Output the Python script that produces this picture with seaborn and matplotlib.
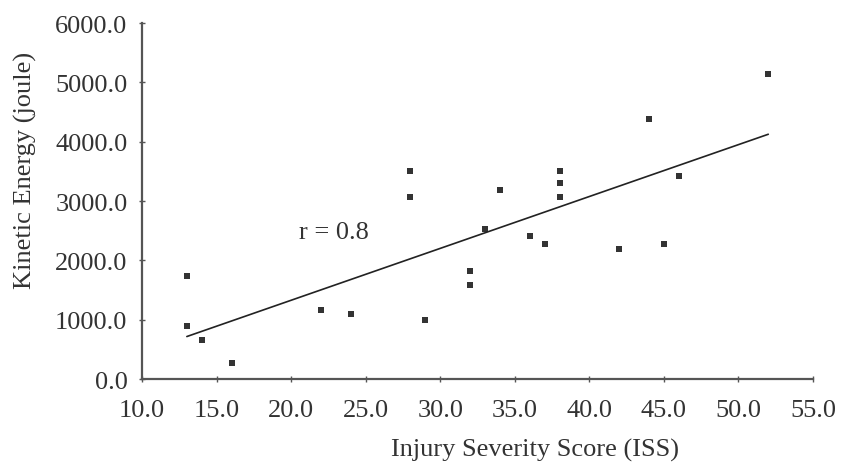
import numpy as np
import pandas as pd
import matplotlib
matplotlib.use("Agg")
import matplotlib.pyplot as plt
import seaborn as sns

# Injury Severity Score (ISS) vs kinetic energy
iss = [13, 13, 14, 16, 22, 24, 28, 28, 29, 32, 32, 33, 34, 36, 37,
       38, 38, 38, 42, 44, 45, 46, 52]
energy = [1730, 890, 650, 270, 1170, 1100, 3510, 3070, 1000, 1820, 1580,
          2530, 3190, 2410, 2270, 3510, 3310, 3070, 2190, 4390, 2280, 3420, 5150]

x_ticks = [10, 15, 20, 25, 30, 35, 40, 45, 50, 55]
y_ticks = [0, 1000, 2000, 3000, 4000, 5000, 6000]

df = pd.DataFrame({"ISS": iss, "KE": energy})

sns.set_style("ticks")
plt.rcParams['font.family'] = ['Liberation Serif', 'DejaVu Serif']

fig = plt.figure(figsize=(8.46, 4.64), dpi=100)
ax = fig.add_axes([0.168, 0.181, 0.793, 0.767])

sns.regplot(data=df, x="ISS", y="KE", ax=ax, ci=None,
            marker="s", color="black",
            scatter_kws={"s": 20, "linewidths": 0},
            line_kws={"linewidth": 1.2, "color": "#222222"})

ax.set_xlim(10, 55)
ax.set_ylim(0, 6000)
ax.set_xticks(x_ticks)
ax.set_yticks(y_ticks)
ax.set_xticklabels([f"{v:.1f}" for v in x_ticks])
ax.set_yticklabels([f"{v:.1f}" for v in y_ticks])

txt = "#333333"
ax.tick_params(axis="both", labelsize=19, colors="#555555", labelcolor=txt,
               direction="inout", length=5, width=1, pad=8)
ax.tick_params(axis="x", pad=12)
ax.set_xlabel("Injury Severity Score (ISS)", fontsize=19, color=txt)
ax.set_ylabel("Kinetic Energy (joule)", fontsize=19, color=txt)
ax.xaxis.label.set_va("center")
ax.yaxis.label.set_va("center")
ax.xaxis.set_label_coords(0.586, -0.198)
ax.yaxis.set_label_coords(-0.174, 0.59)

for side in ["top", "right"]:
    ax.spines[side].set_visible(False)
for side in ["left", "bottom"]:
    ax.spines[side].set_color("#555555")
    ax.spines[side].set_linewidth(1.6)

ax.text(20.5, 2480, "r = 0.8", fontsize=19, color=txt, va="center", ha="left")

fig.savefig("out.png", dpi=100)
